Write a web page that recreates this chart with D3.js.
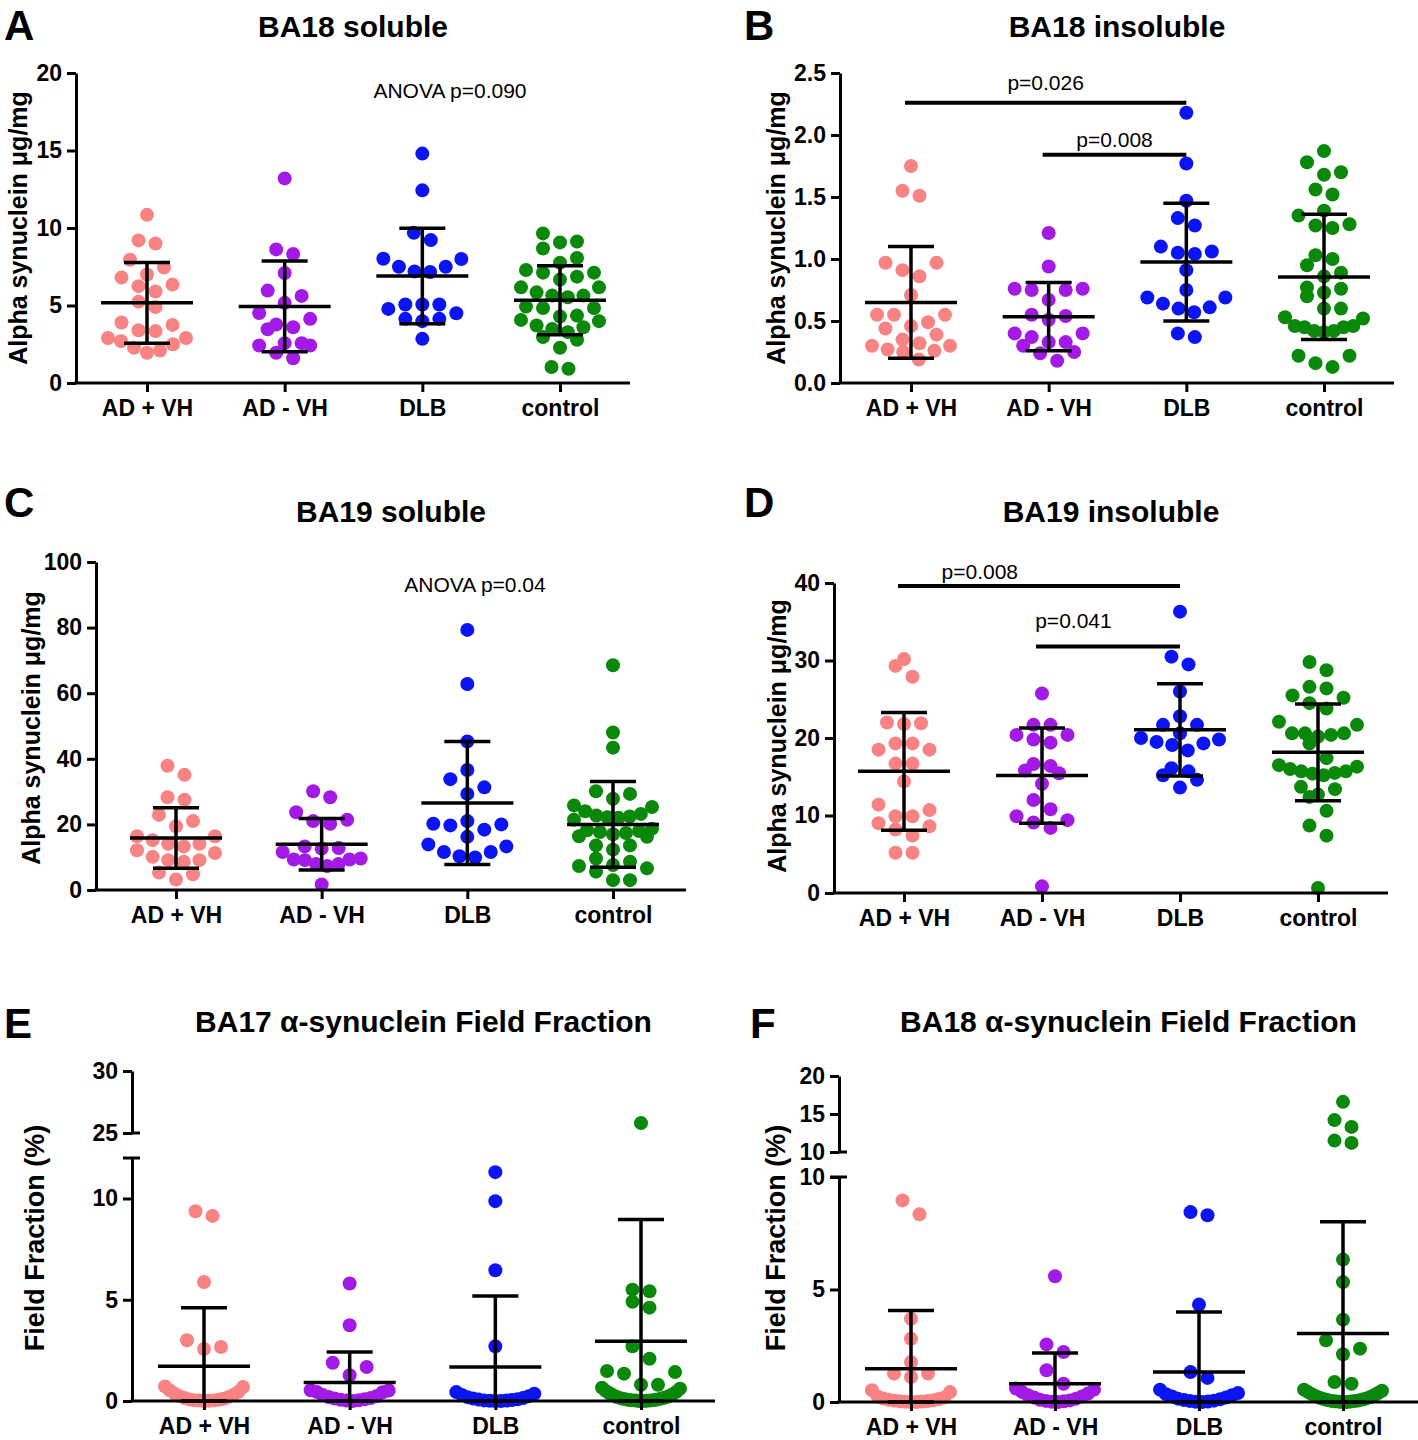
<!DOCTYPE html>
<html>
<head>
<meta charset="utf-8">
<script src="https://cdn.jsdelivr.net/npm/d3@7"></script>
<style>
  body { margin: 0; background: #fff; }
  svg text { font-family: "Liberation Sans", Arial, sans-serif; fill: #000; }
</style>
</head>
<body>
<svg id="chart" width="1418" height="1440"></svg>
<script>
const groups = ['AD + VH', 'AD - VH', 'DLB', 'control'];
const groupColors = ['#f98383', '#a31ae6', '#0a14f5', '#0a880a'];

// A: BA18 soluble (µg/mg)
const ba18Soluble = [
  [10.85, 9.2, 9.0, 7.95, 7.45, 7.0, 6.8, 6.35, 6.25, 5.9, 5.25, 4.9, 3.9, 3.75, 3.4, 3.35, 2.9, 2.9, 2.7, 2.5, 2.27, 2.1, 1.95],
  [13.2, 8.62, 8.32, 7.1, 5.96, 5.62, 5.17, 4.52, 4.14, 3.77, 3.6, 3.47, 2.57, 2.57, 2.42, 2.42, 1.95, 1.6],
  [14.8, 12.43, 9.69, 9.22, 8.0, 8.02, 7.5, 7.5, 7.16, 7.2, 5.06, 5.06, 5.06, 4.78, 4.5, 4.14, 4.14, 3.99, 2.85],
  [9.65, 9.07, 9.13, 8.68, 8.06, 7.76, 7.29, 7.12, 7.12, 6.86, 6.67, 6.17, 6.17, 5.85, 5.64, 5.64, 5.53, 4.93, 4.84, 4.84, 4.35, 4.29, 4.07, 3.99, 3.71, 3.6, 3.49, 3.28, 2.96, 2.79, 2.27, 1.03, 0.92]
];
const ba18SolubleMean = [5.17, 4.94, 6.9, 5.34];
const ba18SolubleSD = [2.6, 2.93, 3.08, 2.23];

// B: BA18 insoluble
const ba18Insoluble = [
  [1.75, 1.55, 1.51, 0.97, 0.97, 0.91, 0.86, 0.71, 0.55, 0.55, 0.55, 0.49, 0.46, 0.44, 0.39, 0.35, 0.32, 0.30, 0.30, 0.27, 0.26, 0.25, 0.19],
  [1.21, 0.94, 0.76, 0.75, 0.75, 0.76, 0.67, 0.55, 0.54, 0.51, 0.40, 0.40, 0.37, 0.33, 0.33, 0.30, 0.25, 0.24, 0.18],
  [2.18, 1.77, 1.47, 1.33, 1.27, 1.10, 1.06, 1.05, 1.04, 0.91, 0.75, 0.69, 0.69, 0.64, 0.61, 0.60, 0.57, 0.40, 0.37],
  [1.87, 1.78, 1.70, 1.68, 1.56, 1.52, 1.39, 1.35, 1.28, 1.27, 1.25, 1.03, 1.00, 0.95, 0.89, 0.86, 0.77, 0.76, 0.73, 0.70, 0.60, 0.60, 0.53, 0.52, 0.46, 0.46, 0.45, 0.45, 0.42, 0.41, 0.42, 0.22, 0.22, 0.16, 0.13]
];
const ba18InsolubleMean = [0.65, 0.535, 0.975, 0.855];
const ba18InsolubleSD = [0.45, 0.275, 0.475, 0.505];
const ba18InsolubleSig = [
  { from: 0, to: 2, y: 2.26, label: 'p=0.026', labelAt: 0.5, labelY: 2.36 },
  { from: 1, to: 2, y: 1.84, label: 'p=0.008', labelAt: 0.5, labelY: 1.90 }
];

// C: BA19 soluble
const ba19Soluble = [
  [37.9, 35.1, 28.3, 27.5, 22.9, 21.0, 19.4, 16.4, 16.4, 15.2, 14.1, 14.1, 13.3, 12.1, 11.3, 10.1, 9.1, 9.1, 8.6, 5.3, 4.8, 3.2],
  [30.1, 28.3, 23.7, 21.4, 21.0, 20.2, 13.3, 12.8, 12.6, 11.6, 9.6, 9.3, 9.1, 9.3, 7.9, 7.9, 7.3, 1.7],
  [79.3, 62.8, 45.3, 36.6, 33.8, 31.3, 29.3, 21.0, 20.2, 19.7, 20.0, 18.4, 16.2, 13.9, 13.3, 11.6, 11.6, 9.9, 10.3],
  [68.5, 48.0, 43.4, 30.1, 29.3, 27.8, 25.3, 25.8, 24.0, 23.2, 22.7, 22.4, 22.2, 22.0, 21.4, 18.7, 18.2, 18.0, 17.7, 17.4, 17.0, 16.4, 16.2, 13.6, 13.6, 12.3, 9.6, 8.6, 7.3, 7.6, 6.6, 5.6, 3.0, 3.0]
];
const ba19SolubleMean = [15.85, 13.95, 26.55, 20.0];
const ba19SolubleSD = [9.25, 7.85, 18.75, 13.1];

// D: BA19 insoluble
const ba19Insoluble = [
  [30.2, 29.3, 27.9, 21.9, 21.8, 22.0, 19.3, 19.3, 18.5, 18.5, 16.7, 16.7, 14.4, 11.4, 10.7, 9.9, 9.9, 9.0, 8.6, 8.2, 7.4, 5.2, 5.2],
  [25.75, 21.7, 21.7, 20.4, 20.4, 19.8, 19.4, 16.65, 16.4, 15.8, 15.45, 14.1, 12.0, 10.8, 9.9, 9.4, 9.1, 8.4, 0.86],
  [36.3, 30.5, 29.5, 26.0, 22.8, 21.7, 21.7, 20.6, 20.0, 19.8, 19.5, 19.3, 19.1, 18.4, 16.1, 15.7, 15.2, 14.6, 13.6],
  [29.8, 28.75, 26.6, 26.4, 25.5, 25.2, 24.5, 23.8, 22.1, 21.7, 20.6, 20.6, 20.6, 20.4, 20.2, 19.3, 17.4, 16.5, 16.3, 16.0, 15.7, 15.7, 15.5, 15.4, 15.2, 13.7, 13.4, 12.7, 12.4, 10.6, 8.7, 7.4, 0.64]
];
const ba19InsolubleMean = [15.7, 15.15, 21.05, 18.15];
const ba19InsolubleSD = [7.6, 6.15, 5.95, 6.25];
const ba19InsolubleSig = [
  { from: 0, to: 2, y: 39.6, label: 'p=0.008', labelAt: 0.29, labelY: 40.5 },
  { from: 1, to: 2, y: 31.8, label: 'p=0.041', labelAt: 0.26, labelY: 34.2 }
];

// E: BA17 field fraction (%)
const ba17Field = [
  [9.37, 9.14, 5.88, 3.0, 2.67, 2.57, 0.72, 0.69, 0.52, 0.44, 0.36, 0.3, 0.24, 0.19, 0.15, 0.11, 0.08, 0.06, 0.04, 0.03, 0.02, 0.01, 0],
  [5.8, 3.74, 1.89, 1.68, 1.27, 0.53, 0.52, 0.45, 0.43, 0.3, 0.25, 0.2, 0.15, 0.12, 0.09, 0.06, 0.04, 0.02, 0],
  [11.3, 9.87, 6.46, 2.7, 0.44, 0.36, 0.3, 0.24, 0.19, 0.15, 0.12, 0.09, 0.07, 0.05, 0.03, 0.02, 0.01, 0, 0],
  [25.8, 5.5, 5.42, 4.9, 4.61, 2.7, 2.09, 1.48, 1.43, 1.35, 0.8, 0.8, 0.66, 0.61, 0.5, 0.45, 0.38, 0.33, 0.28, 0.24, 0.2, 0.17, 0.14, 0.12, 0.1, 0.08, 0.06, 0.05, 0.04, 0.03, 0.02, 0.01, 0, 0]
];
const ba17FieldMean = [1.71, 0.91, 1.68, 2.95];
const ba17FieldSD = [2.9, 1.51, 3.51, 6.01];

// F: BA18 field fraction (%)
const ba18Field = [
  [8.96, 8.34, 3.7, 2.81, 1.78, 1.26, 1.26, 1.11, 0.52, 0.44, 0.25, 0.2, 0.16, 0.13, 0.1, 0.08, 0.06, 0.04, 0.03, 0.02, 0.01, 0, 0],
  [5.59, 2.56, 2.22, 1.41, 0.81, 0.6, 0.55, 0.45, 0.38, 0.3, 0.25, 0.2, 0.15, 0.1, 0.07, 0.05, 0.03, 0.01, 0],
  [8.44, 8.30, 4.33, 1.33, 1.07, 0.55, 0.4, 0.35, 0.3, 0.25, 0.2, 0.15, 0.12, 0.09, 0.06, 0.04, 0.02, 0.01, 0],
  [16.6, 14.2, 13.3, 11.5, 11.2, 6.33, 5.33, 3.66, 2.74, 2.37, 2.12, 0.89, 0.81, 0.55, 0.5, 0.45, 0.4, 0.35, 0.3, 0.26, 0.22, 0.19, 0.16, 0.13, 0.11, 0.09, 0.07, 0.05, 0.04, 0.03, 0.02, 0.01, 0, 0]
];
const ba18FieldMean = [1.48, 0.81, 1.33, 3.04];
const ba18FieldSD = [2.59, 1.37, 2.67, 4.97];

const massLabel = 'Alpha synuclein \u03bcg/mg';
const fieldLabel = 'Field Fraction (%)';

const panels = [
  { letter: 'A', lx: 4, ly: 40, title: 'BA18 soluble', ty: 37, values: ba18Soluble, means: ba18SolubleMean, sds: ba18SolubleSD,
    x0: 76, cats: [147, 560], xEnd: 630, lower: { domain: [0, 20], range: [383, 73], ticks: [0, 5, 10, 15, 20] },
    fmt: d3.format('d'), yLabel: massLabel, labelX: 27, labelY: 228, labelSize: 25, note: { text: 'ANOVA p=0.090', x: 450, y: 98 } },
  { letter: 'B', lx: 744, ly: 40, title: 'BA18 insoluble', ty: 37, values: ba18Insoluble, means: ba18InsolubleMean, sds: ba18InsolubleSD,
    x0: 840, cats: [911, 1324], xEnd: 1394, lower: { domain: [0, 2.5], range: [383, 73], ticks: [0, 0.5, 1, 1.5, 2, 2.5] },
    fmt: d3.format('.1f'), yLabel: massLabel, labelX: 785, labelY: 228, labelSize: 25, sig: ba18InsolubleSig },
  { letter: 'C', lx: 4, ly: 517, title: 'BA19 soluble', ty: 522, values: ba19Soluble, means: ba19SolubleMean, sds: ba19SolubleSD,
    x0: 96, cats: [176, 613], xEnd: 686, lower: { domain: [0, 100], range: [890, 562], ticks: [0, 20, 40, 60, 80, 100] },
    fmt: d3.format('d'), yLabel: massLabel, labelX: 40, labelY: 728, labelSize: 25, note: { text: 'ANOVA p=0.04', x: 475, y: 592 } },
  { letter: 'D', lx: 744, ly: 517, title: 'BA19 insoluble', ty: 522, values: ba19Insoluble, means: ba19InsolubleMean, sds: ba19InsolubleSD,
    x0: 834, cats: [904, 1318], xEnd: 1388, lower: { domain: [0, 40], range: [893, 583], ticks: [0, 10, 20, 30, 40] },
    fmt: d3.format('d'), yLabel: massLabel, labelX: 786, labelY: 736, labelSize: 25, sig: ba19InsolubleSig },
  { letter: 'E', lx: 4, ly: 1038, title: 'BA17 \u03b1-synuclein Field Fraction', ty: 1032, values: ba17Field, means: ba17FieldMean, sds: ba17FieldSD,
    x0: 132, cats: [204, 641], xEnd: 715,
    lower: { domain: [0, 12], range: [1401, 1158], ticks: [0, 5, 10], capTop: true },
    upper: { domain: [25, 30], range: [1133, 1071], ticks: [25, 30] },
    fmt: d3.format('d'), yLabel: fieldLabel, labelX: 44, labelY: 1238, labelSize: 27 },
  { letter: 'F', lx: 750, ly: 1038, title: 'BA18 \u03b1-synuclein Field Fraction', ty: 1032, values: ba18Field, means: ba18FieldMean, sds: ba18FieldSD,
    x0: 839, cats: [911, 1343], xEnd: 1418,
    lower: { domain: [0, 10], range: [1402, 1177], ticks: [0, 5, 10], capTop: true },
    upper: { domain: [10, 20], range: [1152, 1076], ticks: [10, 15, 20] },
    fmt: d3.format('d'), yLabel: fieldLabel, labelX: 785, labelY: 1238, labelSize: 27 }
];

const svg = d3.select('#chart');
const dotR = 7;
const binH = 15;     // rows of dots, in px
const maxStep = 17;  // horizontal spacing inside a row
const halfW = 39;    // max half width of a column of dots

// Prism-like scatter: bin values into rows, lowest of a row in the middle, others alternate outward
function swarm(values, yPix, cx) {
  const pts = values.map(v => ({ v, y: yPix(v) })).sort((a, b) => b.y - a.y);
  const bins = [];
  let cur = null;
  pts.forEach(p => {
    if (!cur || cur[0].y - p.y > binH) { cur = [p]; bins.push(cur); }
    else cur.push(p);
  });
  bins.forEach(bin => {
    const n = bin.length;
    const step = n > 1 ? Math.min(maxStep, 2 * halfW / (n - 1)) : 0;
    bin.forEach((p, i) => {
      let slot;
      if (n % 2 === 1) slot = i === 0 ? 0 : (i % 2 === 1 ? (i + 1) / 2 : -i / 2);
      else slot = (i % 2 === 0 ? 1 : -1) * (Math.floor(i / 2) + 0.5);
      p.x = cx + slot * step;
    });
  });
  return pts;
}

function styleAxis(sel, size) {
  sel.attr('font-family', null).attr('font-size', null);
  sel.selectAll('.domain').attr('stroke', '#000').attr('stroke-width', 3);
  sel.selectAll('.tick line').attr('stroke', '#000').attr('stroke-width', 3);
  sel.selectAll('.tick text').attr('font-size', size).attr('font-weight', 'bold');
}

function drawPanel(p) {
  const g = svg.append('g');
  const x = d3.scalePoint().domain(groups).range(p.cats);
  const yLo = d3.scaleLinear().domain(p.lower.domain).range(p.lower.range);
  const yHi = p.upper ? d3.scaleLinear().domain(p.upper.domain).range(p.upper.range) : null;
  const yPix = v => (yHi && v > p.lower.domain[1]) ? yHi(v) : yLo(v);
  const y0 = yLo(0);

  // letter + title
  g.append('text').attr('x', p.lx).attr('y', p.ly).attr('font-size', 42).attr('font-weight', 'bold').text(p.letter);
  g.append('text').attr('x', (p.x0 + p.xEnd) / 2).attr('y', p.ty).attr('text-anchor', 'middle')
    .attr('font-size', 30).attr('font-weight', 'bold').text(p.title);

  // y axis label
  g.append('text').attr('transform', `translate(${p.labelX},${p.labelY}) rotate(-90)`)
    .attr('text-anchor', 'middle').attr('font-size', p.labelSize).attr('font-weight', 'bold').text(p.yLabel);

  // dots
  groups.forEach((grp, gi) => {
    const pts = swarm(p.values[gi], yPix, x(grp));
    g.append('g').selectAll('circle').data(pts).join('circle')
      .attr('cx', d => d.x).attr('cy', d => d.y).attr('r', dotR)
      .attr('fill', groupColors[gi]);
  });

  // y axis (possibly broken)
  const lowAxis = g.append('g').attr('transform', `translate(${p.x0},0)`)
    .call(d3.axisLeft(yLo).tickValues(p.lower.ticks).tickFormat(p.fmt).tickSize(9).tickSizeOuter(0).tickPadding(5));
  styleAxis(lowAxis, 23);
  if (p.lower.capTop) {
    g.append('line').attr('x1', p.x0 - 9).attr('x2', p.x0 + 8)
      .attr('y1', p.lower.range[1]).attr('y2', p.lower.range[1])
      .attr('stroke', '#000').attr('stroke-width', 3);
  }
  if (yHi) {
    const hiAxis = g.append('g').attr('transform', `translate(${p.x0},0)`)
      .call(d3.axisLeft(yHi).tickValues(p.upper.ticks).tickFormat(p.fmt).tickSize(9).tickSizeOuter(0).tickPadding(5));
    styleAxis(hiAxis, 23);
    g.append('line').attr('x1', p.x0).attr('x2', p.x0 + 8)
      .attr('y1', p.upper.range[0]).attr('y2', p.upper.range[0])
      .attr('stroke', '#000').attr('stroke-width', 3);
  }

  // x axis
  g.append('line').attr('x1', p.x0 - 1.5).attr('x2', p.xEnd).attr('y1', y0).attr('y2', y0)
    .attr('stroke', '#000').attr('stroke-width', 3);
  const xAxis = g.append('g').attr('transform', `translate(0,${y0})`)
    .call(d3.axisBottom(x).tickSize(9).tickSizeOuter(0).tickPadding(8));
  xAxis.select('.domain').remove();
  styleAxis(xAxis, 23);

  // mean +/- SD
  groups.forEach((grp, gi) => {
    const cx = x(grp);
    const m = p.means[gi], s = p.sds[gi];
    const top = yPix(m + s), bot = yPix(Math.max(0, m - s)), mid = yPix(m);
    const eb = g.append('g').attr('stroke', '#000').attr('stroke-width', 3.5);
    eb.append('line').attr('x1', cx).attr('x2', cx).attr('y1', top).attr('y2', bot);
    eb.append('line').attr('x1', cx - 23).attr('x2', cx + 23).attr('y1', top).attr('y2', top);
    eb.append('line').attr('x1', cx - 23).attr('x2', cx + 23).attr('y1', bot).attr('y2', bot);
    eb.append('line').attr('x1', cx - 46).attr('x2', cx + 46).attr('y1', mid).attr('y2', mid);
  });

  // significance bars
  (p.sig || []).forEach(s => {
    const xa = x(groups[s.from]) - 6, xb = x(groups[s.to]);
    g.append('line').attr('x1', xa).attr('x2', xb).attr('y1', yPix(s.y)).attr('y2', yPix(s.y))
      .attr('stroke', '#000').attr('stroke-width', 4);
    g.append('text').attr('x', xa + (xb - xa) * s.labelAt).attr('y', yPix(s.labelY))
      .attr('text-anchor', 'middle').attr('font-size', 21).text(s.label);
  });

  if (p.note) {
    g.append('text').attr('x', p.note.x).attr('y', p.note.y).attr('text-anchor', 'middle')
      .attr('font-size', 21).text(p.note.text);
  }
}

panels.forEach(drawPanel);
</script>
</body>
</html>
